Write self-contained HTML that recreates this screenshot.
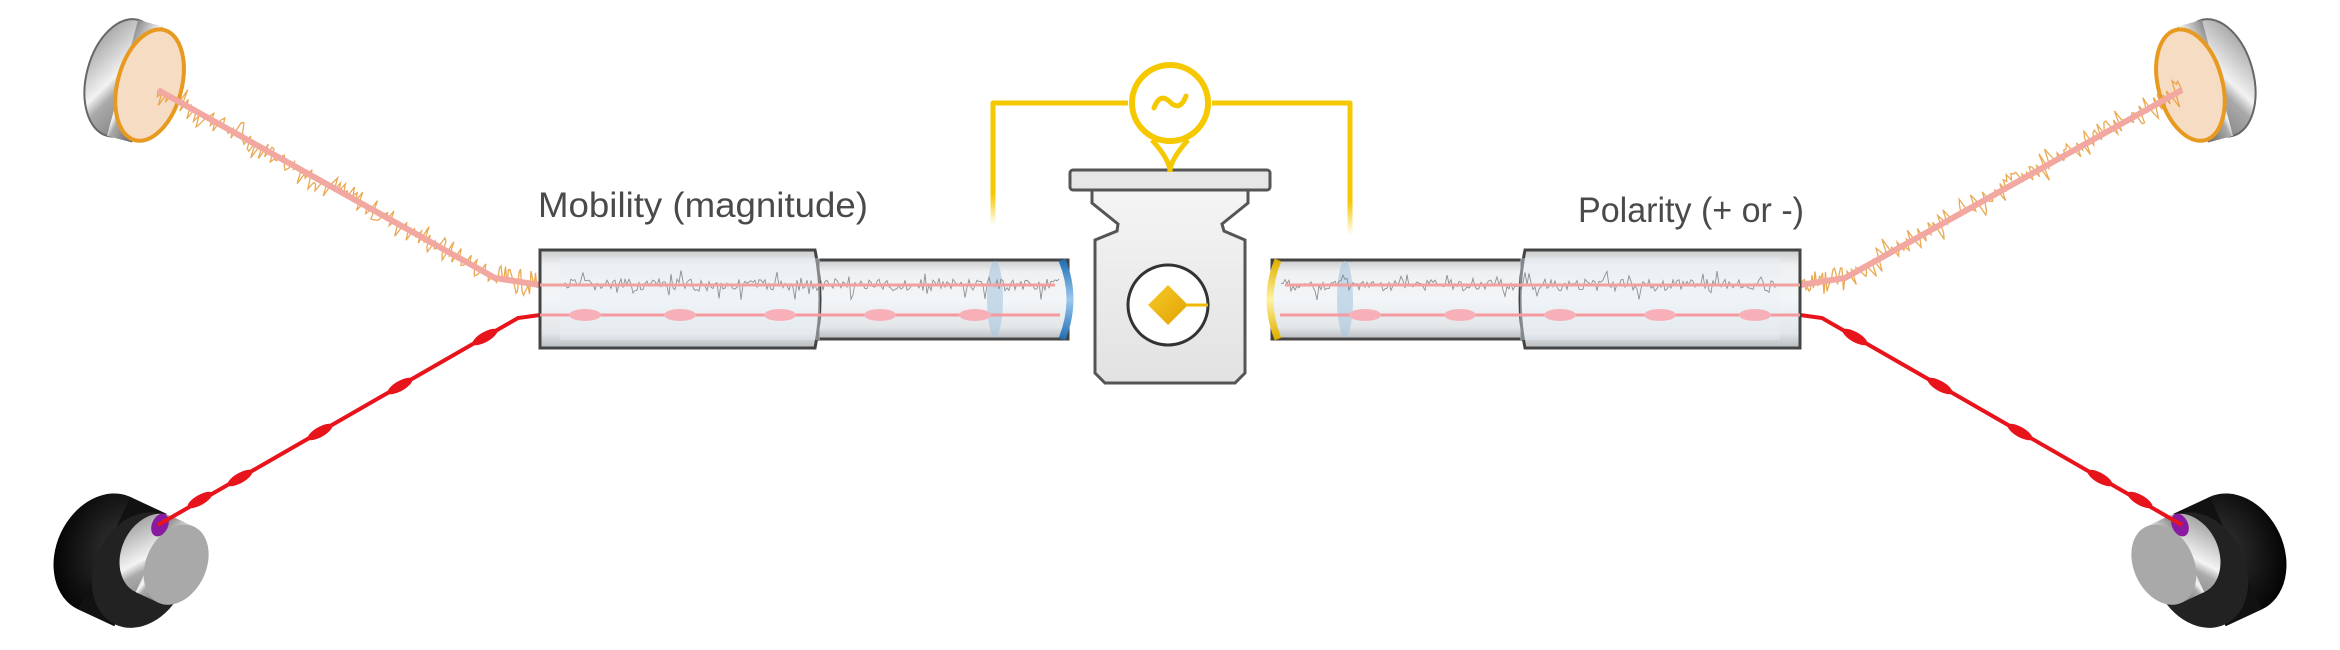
<!DOCTYPE html>
<html><head><meta charset="utf-8"><style>
html,body{margin:0;padding:0;background:#fff;}
svg{display:block}
text{font-family:"Liberation Sans",sans-serif;fill:#4a4a4a;}
</style></head><body>
<svg id="s" width="2340" height="650" viewBox="0 0 2340 650" xmlns="http://www.w3.org/2000/svg">
<defs>
<linearGradient id="tube" x1="0" y1="0" x2="0" y2="1">
<stop offset="0" stop-color="#c9cbcd"/><stop offset="0.15" stop-color="#eef0f1"/><stop offset="0.5" stop-color="#f3f6f8"/><stop offset="0.85" stop-color="#e3e6e8"/><stop offset="1" stop-color="#b9bcbf"/></linearGradient>
<linearGradient id="metal" x1="0" y1="0" x2="1" y2="1">
<stop offset="0" stop-color="#888"/><stop offset="0.45" stop-color="#f2f2f2"/><stop offset="0.55" stop-color="#aaa"/><stop offset="1" stop-color="#666"/></linearGradient>
<linearGradient id="cap" x1="0" y1="0" x2="1" y2="1">
<stop offset="0" stop-color="#888"/><stop offset="0.5" stop-color="#f4f4f4"/><stop offset="0.6" stop-color="#aaa"/><stop offset="1" stop-color="#777"/></linearGradient>
<radialGradient id="blk" cx="0.6" cy="0.4" r="0.7"><stop offset="0" stop-color="#333"/><stop offset="1" stop-color="#000"/></radialGradient>
<linearGradient id="body" x1="0" y1="0" x2="0" y2="1"><stop offset="0" stop-color="#f4f4f4"/><stop offset="1" stop-color="#e2e2e2"/></linearGradient>
<linearGradient id="fadeL" x1="0" y1="0" x2="0" y2="1"><stop offset="0" stop-color="#f5c800"/><stop offset="0.75" stop-color="#f5c800"/><stop offset="1" stop-color="#f5c800" stop-opacity="0"/></linearGradient>
<linearGradient id="blue" x1="0" y1="0" x2="0" y2="1"><stop offset="0" stop-color="#1f6fb5"/><stop offset="0.5" stop-color="#9cc8ee"/><stop offset="1" stop-color="#1f6fb5"/></linearGradient>
<linearGradient id="yel" x1="0" y1="0" x2="0" y2="1"><stop offset="0" stop-color="#e0b000"/><stop offset="0.5" stop-color="#fff2a0"/><stop offset="1" stop-color="#e0b000"/></linearGradient>
<linearGradient id="dia" x1="0" y1="0" x2="1" y2="1"><stop offset="0" stop-color="#f7cc2a"/><stop offset="1" stop-color="#e0a000"/></linearGradient>
</defs>
<g id="half"></g>
<g id="half2" transform="translate(2340,0) scale(-1,1)"></g>
<g fill="none" stroke-width="5" stroke-linejoin="round">
<path d="M993 225 L993 103 L1128 103" stroke="url(#fadeL)"/>
<path d="M1212 103 L1350 103 L1350 235" stroke="url(#fadeL)"/>
</g>
<rect x="1070" y="170" width="200" height="20" rx="3" fill="#e6e6e6" stroke="#555" stroke-width="3"/>
<path d="M1092 190 L1248 190 L1248 203 L1222 224 L1224 231 L1245 240 L1245 373 L1235 383 L1105 383 L1095 373 L1095 240 L1117 231 L1118 224 L1092 203 Z" fill="url(#body)" stroke="#555" stroke-width="3"/>
<circle cx="1168" cy="305" r="40" fill="#fff" stroke="#333" stroke-width="3"/>
<path d="M1168 285 L1188 305 L1168 325 L1148 305 Z" fill="url(#dia)"/>
<line x1="1186" y1="305" x2="1208" y2="305" stroke="#f0b800" stroke-width="3"/>
<line x1="1170" y1="150" x2="1170" y2="253" stroke="url(#fadeL)" stroke-width="5"/>
<path d="M1152 140 Q1170 160 1170 172 Q1170 160 1188 140" fill="none" stroke="#f5c800" stroke-width="5"/>
<circle cx="1170" cy="103" r="38" fill="#fff" stroke="#f5c800" stroke-width="6"/>
<path d="M1154 108 Q1160 92 1170 102 Q1180 112 1186 96" fill="none" stroke="#f5c800" stroke-width="5" stroke-linecap="round"/>
<text x="538" y="217" font-size="35" textLength="330" lengthAdjust="spacingAndGlyphs">Mobility (magnitude)</text>
<text x="1578" y="222" font-size="35" textLength="226" lengthAdjust="spacingAndGlyphs">Polarity (+ or -)</text>
</svg>
<script>
function rnd(s){return function(){s=(s*9301+49297)%233280;return s/233280;}}
function build(id,seed,right){
 var r=rnd(seed),g=document.getElementById(id),h='';
 h+='<g transform="rotate(15 138 82)"><ellipse cx="122" cy="82" rx="36" ry="60" fill="url(#metal)" stroke="#666" stroke-width="2"/>'+
 '<rect x="122" y="22" width="26" height="120" fill="url(#metal)"/><ellipse cx="150" cy="82" rx="32" ry="57" fill="#f7dcc4" stroke="#e89a20" stroke-width="4"/></g>';
 var n='M158 90';
 for(var i=0;i<160;i++){var t=i/160,x=158+t*337,y=90+t*188,a=(r()-0.5)*22*(0.4+r());n+=' L'+(x+a*0.5).toFixed(1)+' '+(y-a).toFixed(1);}
 for(var i=0;i<30;i++){var x=495+i*1.5,y=278+i*0.23,a=(r()-0.5)*26;n+=' L'+x.toFixed(1)+' '+(y+a).toFixed(1);}
 h+='<path d="'+n+'" fill="none" stroke="#e8a040" stroke-width="1.3" opacity="0.9"/>';
 h+='<polyline points="158,90 495,278 540,285" fill="none" stroke="#f2a7a0" stroke-width="6"/>';
 h+='<g transform="rotate(25 120 555)"><ellipse cx="105" cy="560" rx="48" ry="62" fill="url(#blk)"/><rect x="105" y="498" width="40" height="124" fill="#111"/><ellipse cx="145" cy="560" rx="46" ry="60" fill="#222"/>'+
 '<ellipse cx="150" cy="540" rx="32" ry="42" fill="url(#cap)"/><rect x="150" y="498" width="25" height="84" fill="url(#cap)"/><ellipse cx="175" cy="540" rx="30" ry="42" fill="#a9a9a9"/></g>';
 h+='<ellipse cx="160" cy="525" rx="8" ry="12" fill="#8a1aa0" transform="rotate(25 160 525)"/>';
 h+='<polyline points="158,525 518,318 540,315" fill="none" stroke="#e8141c" stroke-width="4"/>';
 [[200,500],[240,478],[320,432],[400,386],[485,337]].forEach(function(p){h+='<ellipse cx="'+p[0]+'" cy="'+p[1]+'" rx="14" ry="5" fill="#e8141c" transform="rotate(-30 '+p[0]+' '+p[1]+')"/>';});
 h+='<rect x="818" y="260" width="250" height="79" fill="url(#tube)" stroke="#444" stroke-width="3"/>';
 h+='<path d="M1062 260 Q1078 299 1062 339" fill="none" stroke="'+(right?'url(#yel)':'url(#blue)')+'" stroke-width="7"/>';
 h+='<ellipse cx="995" cy="299" rx="8" ry="38" fill="#a8c6e0" opacity="0.6"/>';
 h+='<path d="M540 250 L815 250 Q825 299 815 348 L540 348 Z" fill="url(#tube)" stroke="#444" stroke-width="3"/>';
 h+='<rect x="560" y="258" width="260" height="82" fill="#e6f1f8" opacity="0.4"/>';
 var s='M565 285';
 for(var x=565;x<1060;x+=2){s+=' L'+x+' '+(285+(r()-0.5)*(r()<0.15?30:12)).toFixed(1);}
 h+='<path d="'+s+'" fill="none" stroke="#777" stroke-width="0.9" opacity="0.8"/>';
 h+='<line x1="540" y1="285" x2="1055" y2="285" stroke="#f2a0a0" stroke-width="3"/>';
 h+='<line x1="540" y1="315" x2="1060" y2="315" stroke="#f49aa0" stroke-width="3"/>';
 [585,680,780,880,975].forEach(function(x){h+='<ellipse cx="'+x+'" cy="315" rx="16" ry="6" fill="#f7b0b8"/>';});
 g.innerHTML=h;
}
build('half',7,false);build('half2',91,true);
</script>
</body></html>
